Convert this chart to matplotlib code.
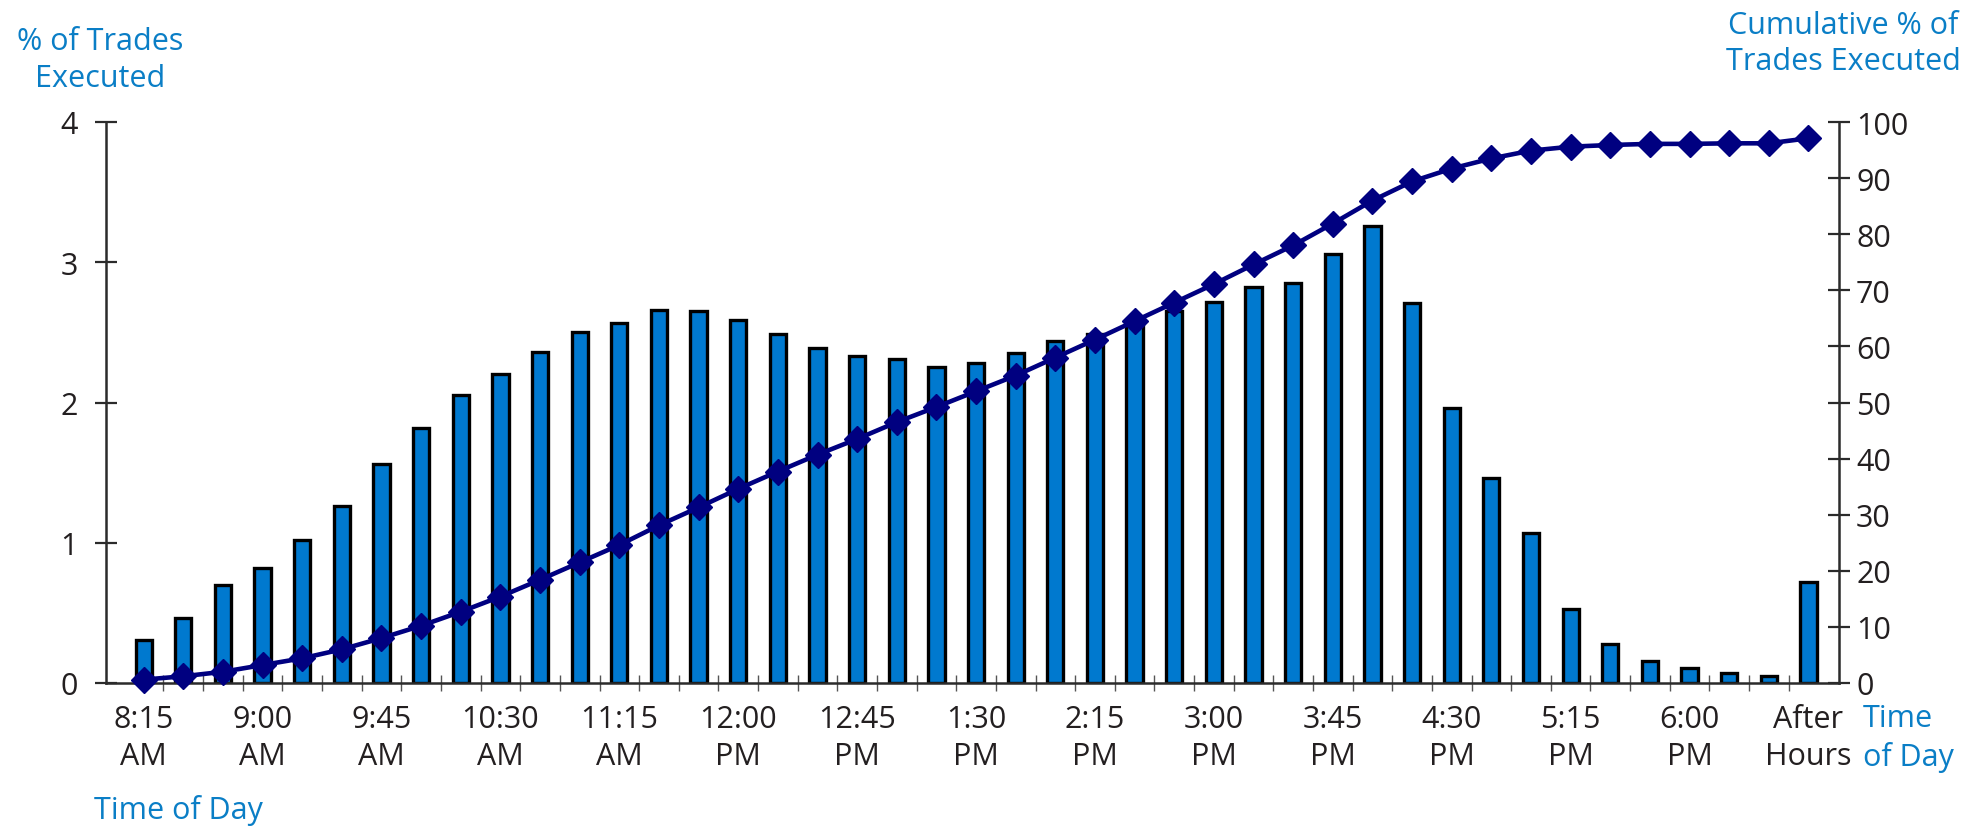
import matplotlib
matplotlib.use('Agg')
import matplotlib.pyplot as plt
import numpy as np

plt.rcParams['font.family'] = ['Open Sans', 'DejaVu Sans']

# % of trades executed in each 15 minute interval (last = after hours)
pct_trades = [0.31, 0.46, 0.70, 0.82, 1.02, 1.26, 1.56, 1.82, 2.05, 2.20,
              2.36, 2.50, 2.57, 2.66, 2.65, 2.59, 2.49, 2.39, 2.33, 2.31,
              2.25, 2.28, 2.35, 2.44, 2.49, 2.56, 2.65, 2.72, 2.82, 2.85,
              3.06, 3.26, 2.71, 1.96, 1.46, 1.07, 0.53, 0.28, 0.16, 0.11,
              0.07, 0.05, 0.72]
cum_pct = [0.6, 1.2, 2.0, 3.2, 4.4, 6.0, 8.0, 10.2, 12.7, 15.4,
           18.4, 21.5, 24.6, 28.1, 31.3, 34.6, 37.7, 40.7, 43.5, 46.5,
           49.2, 52.0, 54.8, 58.0, 61.2, 64.5, 67.8, 71.1, 74.6, 78.0,
           81.9, 86.0, 89.4, 91.7, 93.5, 94.9, 95.6, 95.9, 96.1, 96.1,
           96.2, 96.2, 97.1]
tick_labels = ['8:15\nAM', '9:00\nAM', '9:45\nAM', '10:30\nAM', '11:15\nAM',
               '12:00\nPM', '12:45\nPM', '1:30\nPM', '2:15\nPM', '3:00\nPM',
               '3:45\nPM', '4:30\nPM', '5:15\nPM', '6:00\nPM', 'After\nHours']

BAR_COLOR = '#0079CF'
LINE_COLOR = '#000080'
LABEL_BLUE = '#0A7EC6'
AXIS_COLOR = '#2b2b2b'
TEXT_COLOR = '#231f20'
FS = 22

x = np.arange(len(pct_trades))

fig = plt.figure(figsize=(19.75, 8.28), dpi=100)
ax = fig.add_axes([106 / 1975, 1 - 684 / 828, (1839 - 106) / 1975, (684 - 123) / 828])
ax.bar(x, pct_trades, width=0.41, color=BAR_COLOR, edgecolor='black', linewidth=2.4, zorder=2)
ax.set_xlim(-0.95, 42.77)
ax.set_ylim(0, 4)
ax.set_yticks([0, 1, 2, 3, 4])
ax.set_xticks(x[::3])
ax.set_xticklabels(tick_labels, linespacing=1.3)
ax.set_xticks(x[:-1] + 0.5, minor=True)

ax2 = ax.twinx()
ax2.plot(x, cum_pct, color=LINE_COLOR, lw=3.3, marker='D', ms=13,
         mec=LINE_COLOR, mew=1, clip_on=False, zorder=3)
ax2.set_ylim(0, 100)
ax2.set_yticks(np.arange(0, 101, 10))

for a in (ax, ax2):
    a.spines['top'].set_visible(False)
    for s in ('left', 'right', 'bottom'):
        a.spines[s].set_color(AXIS_COLOR)
        a.spines[s].set_linewidth(1.8)
    a.patch.set_visible(False)

ax.spines['right'].set_visible(False)
ax2.spines['left'].set_visible(False)
ax2.spines['bottom'].set_visible(False)

ax.tick_params(axis='y', direction='inout', length=16.5, width=1.6, color=AXIS_COLOR,
               labelsize=FS, labelcolor=TEXT_COLOR, pad=12)
ax2.tick_params(axis='y', direction='inout', length=16.5, width=1.6, color=AXIS_COLOR,
                labelsize=FS, labelcolor=TEXT_COLOR, pad=4)
ax.tick_params(axis='x', which='major', length=0, labelsize=FS, labelcolor=TEXT_COLOR, pad=15)
ax.tick_params(axis='x', which='minor', direction='inout', length=12, width=1, color='#555555')

fig.text(100 / 1975, 1 - 27 / 828, '% of Trades\nExecuted', color=LABEL_BLUE, fontsize=FS,
         ha='center', va='top', ma='center', linespacing=1.3)
fig.text(1843 / 1975, 1 - 10.5 / 828, 'Cumulative % of\nTrades Executed', color=LABEL_BLUE,
         fontsize=FS, ha='center', va='top', ma='center', linespacing=1.3)
fig.text(94 / 1975, 1 - 795 / 828, 'Time of Day', color=LABEL_BLUE, fontsize=FS,
         ha='left', va='top')
fig.text(1863 / 1975, 1 - 704.5 / 828, 'Time\nof Day', color=LABEL_BLUE, fontsize=FS,
         ha='left', va='top', ma='left', linespacing=1.3)

fig.savefig('out.png', dpi=100)
